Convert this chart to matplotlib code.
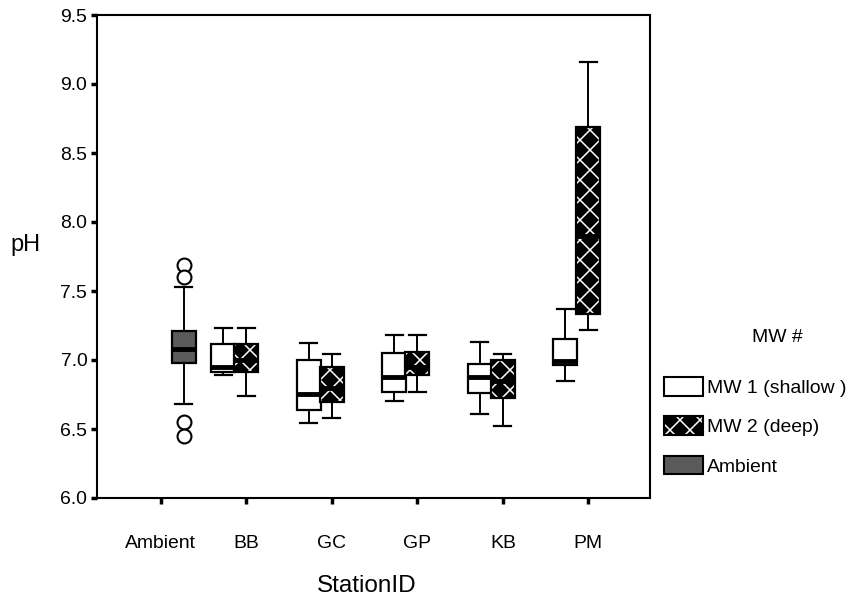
import matplotlib
matplotlib.use("Agg")
import matplotlib.pyplot as plt
from matplotlib.patches import Patch, PathPatch

# Rendered at 120 dpi so the 'xx' hatch lattice gets roughly the
# reference's ~20 px period; every point size is scaled by PT to match.
DPI = 120
PT = 100 / DPI

plt.rcParams['font.family'] = ['Liberation Sans', 'DejaVu Sans']
plt.rcParams['hatch.linewidth'] = 1.1 * PT

# ── Data ─────────────────────────────────────────────────────────────────────
STATIONS = ["Ambient", "BB", "GC", "GP", "KB", "PM"]
WELL_STATIONS = ["BB", "GC", "GP", "KB", "PM"]

# MW 1 (shallow)
MW1_WHISLO = [6.89, 6.54, 6.70, 6.61, 6.85]
MW1_Q1     = [6.91, 6.635, 6.77, 6.76, 6.965]
MW1_MED    = [6.95, 6.755, 6.875, 6.877, 6.995]
MW1_Q3     = [7.115, 7.00, 7.05, 6.97, 7.15]
MW1_WHISHI = [7.23, 7.12, 7.18, 7.13, 7.37]

# MW 2 (deep)
MW2_WHISLO = [6.74, 6.58, 6.77, 6.52, 7.22]
MW2_Q1     = [6.91, 6.695, 6.888, 6.725, 7.333]
MW2_MED    = [7.00, 6.80, 6.95, 6.85, 7.90]
MW2_Q3     = [7.115, 6.95, 7.06, 7.00, 8.69]
MW2_WHISHI = [7.23, 7.04, 7.18, 7.04, 9.16]

# Ambient
AMB_WHISLO = 6.68
AMB_Q1 = 6.98
AMB_MED = 7.08
AMB_Q3 = 7.21
AMB_WHISHI = 7.53
AMB_FLIERS = [7.69, 7.60, 6.55, 6.45]

AMBIENT_GREY = "#5a5a5a"
OFFSET = 0.27
BOX_W = 0.28
CAP_W = 0.20


def stats(lo, q1, med, q3, hi, fliers=()):
    return dict(whislo=lo, q1=q1, med=med, q3=q3, whishi=hi, fliers=list(fliers))


fig = plt.figure(figsize=(853 / DPI, 598 / DPI), dpi=DPI)
ax = fig.add_axes([97 / 853, 1 - 498 / 598, (650 - 97) / 853, (498 - 15) / 598])

common = dict(
    widths=BOX_W, capwidths=CAP_W, patch_artist=True, manage_ticks=False,
    whiskerprops=dict(color="black", linewidth=1.4 * PT),
    capprops=dict(color="black", linewidth=1.6 * PT),
    medianprops=dict(color="black", linewidth=3.5 * PT, solid_capstyle="butt"),
    flierprops=dict(marker="o", markersize=10 * PT, markerfacecolor="white",
                    markeredgecolor="black", markeredgewidth=1.5 * PT,
                    linestyle="none"),
)

idx = [STATIONS.index(s) for s in WELL_STATIONS]

# shallow wells: white boxes
mw1 = [stats(*v) for v in zip(MW1_WHISLO, MW1_Q1, MW1_MED, MW1_Q3, MW1_WHISHI)]
ax.bxp(mw1, positions=[i - OFFSET for i in idx],
       boxprops=dict(facecolor="white", edgecolor="black", linewidth=1.6 * PT),
       **common)

# deep wells: black with white lattice
mw2 = [stats(*v) for v in zip(MW2_WHISLO, MW2_Q1, MW2_MED, MW2_Q3, MW2_WHISHI)]
res = ax.bxp(mw2, positions=idx,
             boxprops=dict(facecolor="black", edgecolor="white", hatch="xx",
                           linewidth=0), **common)
for b in res["boxes"]:
    ax.add_patch(PathPatch(b.get_path(), fill=False, edgecolor="black",
                           linewidth=1.6 * PT, zorder=b.get_zorder() + 0.1))

# ambient
amb = [stats(AMB_WHISLO, AMB_Q1, AMB_MED, AMB_Q3, AMB_WHISHI, AMB_FLIERS)]
ax.bxp(amb, positions=[STATIONS.index("Ambient") + OFFSET],
       boxprops=dict(facecolor=AMBIENT_GREY, edgecolor="black", linewidth=1.6 * PT),
       **common)

# ── Axes ─────────────────────────────────────────────────────────────────────
ax.set_xlim(-0.745, 5.72)
ax.set_ylim(6.0, 9.5)
ax.set_xticks(range(len(STATIONS)))
ax.set_xticklabels(STATIONS)
ax.set_yticks([6.0 + 0.5 * k for k in range(8)])
ax.set_yticklabels([f"{6.0 + 0.5 * k:.1f}" for k in range(8)])
ax.tick_params(axis="both", direction="out", length=4 * PT, width=2.5 * PT,
               labelsize=14 * PT)
ax.tick_params(axis="y", pad=3 * PT)
ax.tick_params(axis="x", pad=23 * PT)
for sp in ax.spines.values():
    sp.set_linewidth(1.5 * PT)

ax.set_xlabel("StationID", fontsize=17.5 * PT, va="center")
ax.xaxis.set_label_coords(0.488, -0.182)
ax.set_ylabel("pH", fontsize=17 * PT, rotation=0, va="center", ha="center")
ax.yaxis.set_label_coords(-0.13, 0.524)

# ── Legend ───────────────────────────────────────────────────────────────────
h_mw1 = Patch(facecolor="white", edgecolor="black", linewidth=1.5 * PT)
h_mw2 = (Patch(facecolor="black", edgecolor="white", hatch="xx", linewidth=0),
         Patch(fill=False, edgecolor="black", linewidth=1.5 * PT))
h_amb = Patch(facecolor=AMBIENT_GREY, edgecolor="black", linewidth=1.5 * PT)
fig.legend([h_mw1, h_mw2, h_amb], ["MW 1 (shallow )", "MW 2 (deep)", "Ambient"],
           loc="upper left", bbox_to_anchor=(664 / 853, 1 - 377 / 598),
           frameon=False, fontsize=14 * PT, handlelength=2.0, handleheight=1.1,
           handletextpad=0.2, labelspacing=1.0, borderpad=0, borderaxespad=0)
fig.text(777 / 853, 1 - 337 / 598, "MW #", fontsize=14 * PT,
         ha="center", va="center")

fig.savefig("out.png", dpi=DPI)
